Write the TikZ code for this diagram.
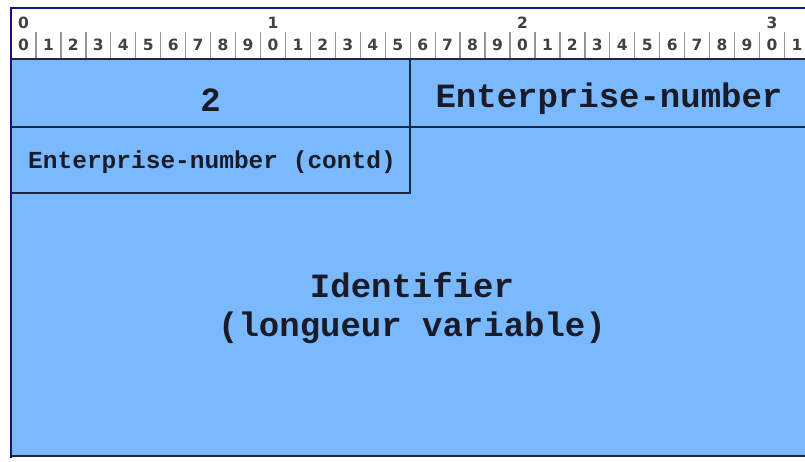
\documentclass[tikz,border=0pt]{standalone}
\usepackage{fontspec}
\setmainfont{Liberation Mono}
\newfontfamily\rulerfont{DejaVu Sans}
\definecolor{fieldblue}{RGB}{122,185,254}
\definecolor{edgeline}{RGB}{26,40,72}
\definecolor{outerblue}{RGB}{20,20,120}
\definecolor{rulergray}{RGB}{65,65,65}
\definecolor{sepgray}{RGB}{150,150,150}
\definecolor{textdark}{RGB}{25,28,40}
\begin{document}
\begin{tikzpicture}[x=1pt,y=-1pt,
  field/.style={font=\fontsize{34}{40}\selectfont\bfseries, text=textdark, inner sep=0pt},
  smallfield/.style={font=\fontsize{24.5}{30}\selectfont\bfseries, text=textdark, inner sep=0pt},
  digit/.style={font=\rulerfont\fontsize{15.5}{18}\selectfont\bfseries, text=rulergray, inner sep=0pt},
  sep/.style={draw=sepgray, line width=1.3pt},
  cell/.style={draw=edgeline, line width=2pt}]
\useasboundingbox (0,0) rectangle (805,461);
\fill[white] (0,0) rectangle (805,461);
% blue area
\fill[fieldblue] (11,59) rectangle (805,456);
% ruler separators
\foreach \i in {1,...,31} {
  \draw[sep] ({11+24.95*\i},32) -- ({11+24.95*\i},58);
}
% ruler digits
\foreach \i in {0,...,31} {
  \pgfmathtruncatemacro{\d}{mod(\i,10)}
  \node[digit] (b\i) at ({11+24.95*(\i+0.5)},45) {\d};
}
\foreach \t/\i in {0/0,1/10,2/20,3/30} {
  \node[digit] (t\t) at ({11+24.95*(\i+0.5)},22.5) {\t};
}
% field borders
\draw[cell, line width=2.5pt] (11,59) -- (805,59);
\draw[cell] (11,127) -- (805,127);
\draw[cell] (410,59) -- (410,193) -- (11,193);
\draw[cell] (11,456) -- (805,456);
% outer border
\draw[outerblue, line width=2pt] (10.5,458) -- (10.5,7.5) -- (805,7.5);
% labels
\node[field] (f2) at (210.5,100) {2};
\node[field] (fen) at (609,99) {Enterprise-number};
\node[smallfield] (fc) at (212,162) {Enterprise-number (contd)};
\node[field] (fid) at (412,285) {Identifier};
\node[field] (flv) at (412,328) {(longueur variable)};
\end{tikzpicture}
\end{document}
